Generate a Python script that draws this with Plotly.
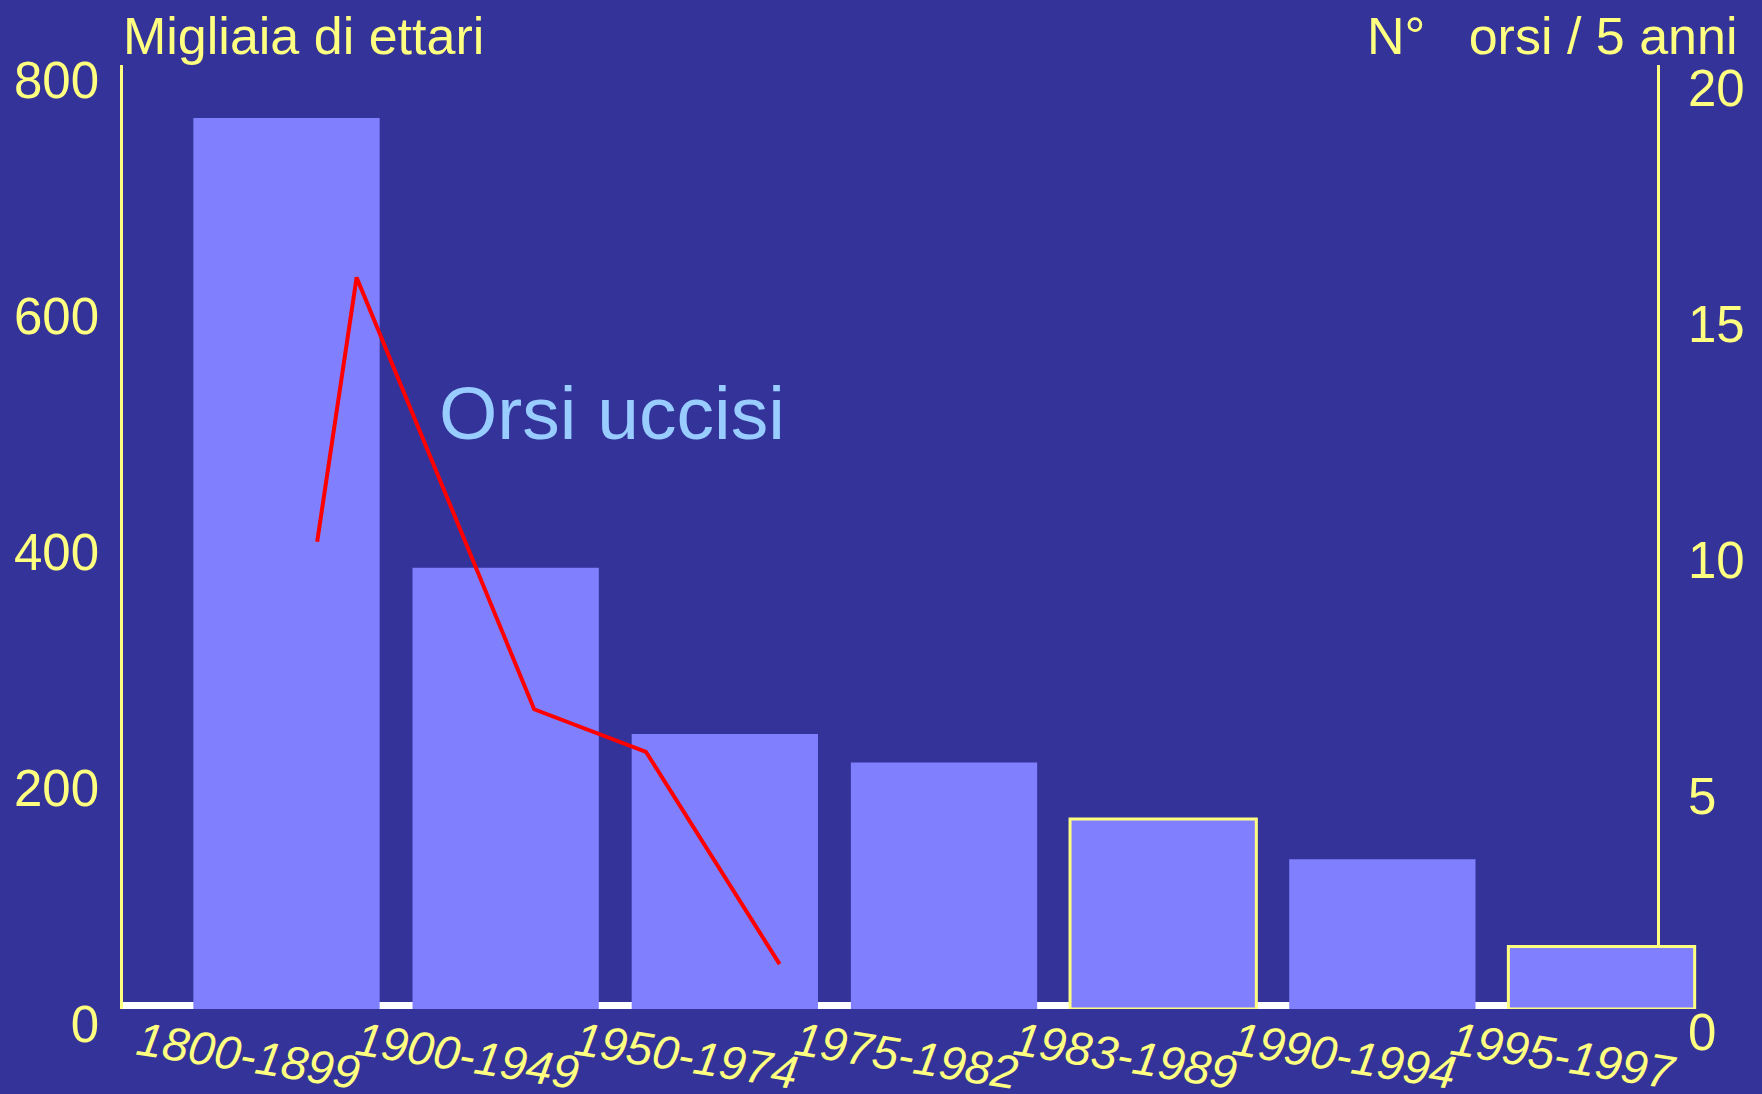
import plotly.graph_objects as go

# ---------------- data ----------------
periodi = ["1800-1899", "1900-1949", "1950-1974", "1975-1982",
           "1983-1989", "1990-1994", "1995-1997"]
ettari = [755, 374, 233, 209, 161, 127, 53]           # migliaia di ettari
evidenziati = [False, False, False, False, True, False, True]

orsi_pos = [0.14, 0.32, 1.13, 1.64, 2.25]             # position along the period axis
orsi_uccisi = [9.9, 15.5, 6.35, 5.45, 0.95]           # n. orsi / 5 anni

y_ticks = [0, 200, 400, 600, 800]
y2_ticks = [0, 5, 10, 15, 20]

# ---------------- style ----------------
BG = "#333399"
BAR = "#8080FF"
YEL = "#FFFF80"
FONT = "Liberation Sans, Arial, sans-serif"

W, H = 1762, 1094
ML, MR, MT, MB = 123, 62, 65, 85
PW = W - ML - MR
PH = H - MT - MB
RIGHT_AXIS_PX = 1658
right_pos = (RIGHT_AXIS_PX - ML) / PW


def px_x(p):
    return (p - ML) / PW


fig = go.Figure()

fig.add_trace(go.Bar(
    x=list(range(len(periodi))), y=ettari, width=0.85,
    marker=dict(color=BAR,
                line=dict(color=[YEL if e else BAR for e in evidenziati],
                          width=[3 if e else 0 for e in evidenziati])),
    showlegend=False, hoverinfo="skip",
))

fig.add_trace(go.Scatter(
    x=orsi_pos, y=orsi_uccisi, yaxis="y2", mode="lines",
    line=dict(color="#FF0000", width=4), showlegend=False, hoverinfo="skip",
))

annotations = []
for i, p in enumerate(periodi):
    annotations.append(dict(
        x=i, xref="x", y=0, yref="paper", text=p, showarrow=False,
        xanchor="center", yanchor="middle", xshift=-38, yshift=-46,
        textangle=9, font=dict(family=FONT, size=47, color=YEL, style="italic"),
    ))

annotations.append(dict(
    x=px_x(121), xref="paper", y=1, yref="paper", yshift=-2, text="Migliaia di ettari",
    showarrow=False, xanchor="left", yanchor="bottom",
    font=dict(family=FONT, size=52, color=YEL),
))
annotations.append(dict(
    x=px_x(1740), xref="paper", y=1, yref="paper", yshift=-2,
    text="N°\u00a0\u00a0\u00a0orsi / 5 anni",
    showarrow=False, xanchor="right", yanchor="bottom",
    font=dict(family=FONT, size=52, color=YEL),
))
annotations.append(dict(
    x=px_x(437), xref="paper", y=(H - MB - 457) / PH,
    yref="paper", text="Orsi uccisi", showarrow=False,
    xanchor="left", yanchor="bottom",
    font=dict(family=FONT, size=75, color="#99CCFF"),
))

shapes = [
    dict(type="rect", xref="paper", x0=0, x1=right_pos, yref="y", ysizemode="pixel",
         yanchor=0, y0=0, y1=7, fillcolor="white", line=dict(width=0), layer="below"),
    dict(type="rect", xref="paper", x0=0, x1=right_pos, yref="y", ysizemode="pixel",
         yanchor=0, y0=-2, y1=-1, fillcolor="#A0A0E0", line=dict(width=0), layer="below"),
]

# x range: left plot edge sits at the left axis line
bar0_center_px = 286.5
pitch = 219.17
x_range = [(ML - bar0_center_px) / pitch, (W - MR - bar0_center_px) / pitch]

fig.update_layout(
    width=W, height=H, autosize=False,
    margin=dict(l=ML, r=MR, t=MT, b=MB, pad=0),
    paper_bgcolor=BG, plot_bgcolor=BG,
    font=dict(family=FONT, color=YEL),
    xaxis=dict(range=x_range, domain=[0, 1], showticklabels=False, showgrid=False,
               zeroline=False, showline=False, fixedrange=True),
    yaxis=dict(range=[0, 800], tickvals=y_ticks, showgrid=False, zeroline=False,
               showline=True, linecolor=YEL, linewidth=2.5, ticks="",
               tickfont=dict(family=FONT, size=51, color=YEL),
               ticklabelshift=15, ticklabelstandoff=11, layer="below traces"),
    yaxis2=dict(range=[0, 20], tickvals=y2_ticks, overlaying="y", side="right",
                anchor="free", position=right_pos,
                showgrid=False, zeroline=False, showline=True, linecolor=YEL,
                linewidth=2.5, ticks="", tickfont=dict(family=FONT, size=51, color=YEL),
                ticklabelshift=23, ticklabelstandoff=18, layer="below traces"),
    annotations=annotations,
    shapes=shapes,
    showlegend=False,
)

fig.write_html("out.html", config={"displayModeBar": False, "responsive": False},
               post_script="document.body.style.margin='0';document.body.style.overflow='hidden';")
